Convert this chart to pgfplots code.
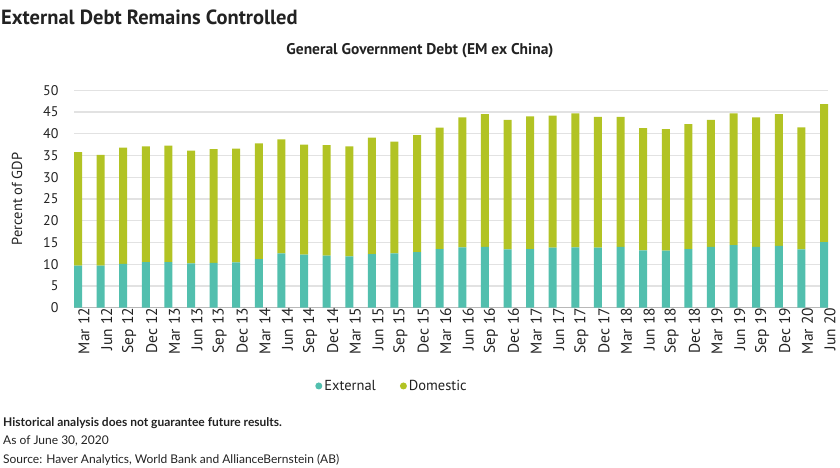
\documentclass[border=0pt]{standalone}
\usepackage{pgfplots}
\usepackage{pgfplotstable}
\pgfplotsset{compat=1.18}
\usepackage{fontspec}
\setmainfont{PT Sans}
\newfontfamily\footfont{Lato}
\definecolor{ext}{HTML}{52BFAE}
\definecolor{dom}{HTML}{B2C324}
\definecolor{txt}{HTML}{222222}
\definecolor{gridc}{HTML}{E2E2E2}
\pgfplotstableread{
x ext dom
0 9.7 26.1
1 9.7 25.45
2 10.1 26.7
3 10.5 26.6
4 10.5 26.8
5 10.2 25.9
6 10.3 26.2
7 10.4 26.2
8 11.2 26.6
9 12.5 26.2
10 12.2 25.3
11 12.0 25.4
12 11.8 25.3
13 12.3 26.8
14 12.5 25.7
15 12.8 26.9
16 13.5 27.9
17 13.9 29.9
18 14.0 30.5
19 13.4 29.8
20 13.5 30.5
21 13.8 30.4
22 13.9 30.8
23 13.8 30.1
24 14.0 29.9
25 13.2 28.1
26 13.1 28.0
27 13.5 28.7
28 14.0 29.2
29 14.4 30.3
30 14.0 29.8
31 14.2 30.3
32 13.4 28.1
33 15.1 31.7
}\debt
\begin{document}
\begin{tikzpicture}[x=1pt,y=1pt]
\path (0,0) rectangle (840,467);
\node[anchor=base west, inner sep=0, text=txt, font=\bfseries\fontsize{20.5}{24}\selectfont] at (1,442) {External Debt Remains Controlled};
\node[anchor=base, inner sep=0, text=txt, font=\bfseries\fontsize{15.5}{18}\selectfont] at (420,412) {General Government Debt (EM ex China)};
\node[rotate=90, inner sep=0, text=txt, font=\fontsize{14.5}{16}\selectfont] at (17,268) {Percent of GDP};
\begin{axis}[
  at={(74pt,159.3pt)}, anchor=south west,
  scale only axis, width=754pt, height=217.4pt,
  xmin=-0.177, xmax=33.177, ymin=0, ymax=50,
  ybar stacked, bar width=8pt,
  axis x line*=bottom, axis y line*=left,
  y axis line style={draw=none},
  x axis line style={draw=black!28, line width=1pt},
  ytick={0,5,...,50},
  xtick={0,...,33},
  xticklabels={Mar 12,Jun 12,Sep 12,Dec 12,Mar 13,Jun 13,Sep 13,Dec 13,Mar 14,Jun 14,Sep 14,Dec 14,Mar 15,Jun 15,Sep 15,Dec 15,Mar 16,Jun 16,Sep 16,Dec 16,Mar 17,Jun 17,Sep 17,Dec 17,Mar 18,Jun 18,Sep 18,Dec 18,Mar 19,Jun 19,Sep 19,Dec 19,Mar 20,Jun 20},
  major tick length=0pt,
  ymajorgrids, grid style={draw=gridc, line width=1.2pt},
  /pgf/number format/assume math mode=true,
  tick label style={text=txt, font=\fontsize{14}{16}\selectfont},
  yticklabel style={anchor=east, xshift=-12pt},
  xticklabel style={rotate=90, anchor=east, yshift=-6pt, inner sep=0pt, font=\fontsize{15.5}{17}\selectfont},
  legend style={draw=none, at={(0.4218,-0.36)}, anchor=center, legend columns=2,
    font=\fontsize{14.5}{16}\selectfont, text=txt,
    /tikz/every even column/.append style={column sep=22pt}},
  legend image code/.code={\fill[#1] (2pt,0pt) circle (3.5pt);},
]
\addplot[fill=ext, draw=none] table[x=x, y=ext] {\debt};
\addplot[fill=dom, draw=none] table[x=x, y=dom] {\debt};
\legend{External, Domestic}
\end{axis}
\node[anchor=base west, inner sep=0, text=txt, font=\footfont\bfseries\fontsize{12}{14}\selectfont] at (3,41) {Historical analysis does not guarantee future results.};
\node[anchor=base west, inner sep=0, text=txt, font=\footfont\fontsize{12}{14}\selectfont] at (3,22.5) {As of June 30, 2020};
\node[anchor=base west, inner sep=0, text=txt, font=\footfont\fontsize{12}{14}\selectfont] at (3,4) {Source: Haver Analytics, World Bank and AllianceBernstein (AB)};
\end{tikzpicture}
\end{document}
